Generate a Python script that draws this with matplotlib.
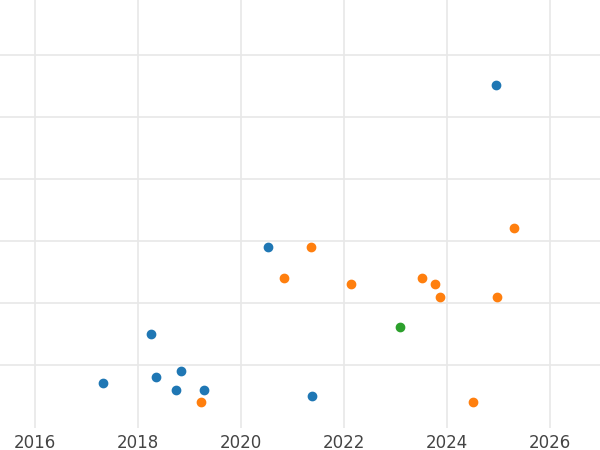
import matplotlib
matplotlib.use('Agg')
import matplotlib.pyplot as plt
from matplotlib.ticker import MultipleLocator

# dates as fractional years, y in arbitrary units (no y labels in reference)
blue_x = [2017.32, 2018.25, 2018.35, 2018.74, 2018.83, 2019.28, 2020.52, 2021.38, 2024.95]
blue_y = [0.71, 1.50, 0.81, 0.60, 0.90, 0.60, 2.90, 0.50, 5.52]
orange_x = [2019.22, 2020.83, 2021.36, 2022.14, 2023.51, 2023.77, 2023.86, 2024.50, 2024.97, 2025.30]
orange_y = [0.40, 2.40, 2.90, 2.31, 2.40, 2.31, 2.10, 0.40, 2.10, 3.21]
green_x = [2023.09]
green_y = [1.61]

fig = plt.figure(figsize=(6, 4.5), dpi=100)
ax = fig.add_axes([0, 0.049, 1, 0.951])

ax.scatter(blue_x, blue_y, color='#1f77b4', s=36, zorder=3)
ax.scatter(orange_x, orange_y, color='#ff7f0e', s=36, zorder=3)
ax.scatter(green_x, green_y, color='#2ca02c', s=36, zorder=3)

ax.set_xlim(2015.32, 2026.97)
ax.set_ylim(-0.02, 6.89)
ax.set_yticks([1, 2, 3, 4, 5, 6])
ax.grid(True, which='major', color='#e8e8e8', linewidth=1.2)
ax.set_axisbelow(True)
for s in ax.spines.values():
    s.set_visible(False)
ax.tick_params(which='both', length=0, labelsize=12, colors='#444444', pad=4)
ax.set_yticklabels([])
ax.set_xticks(range(2016, 2027, 2))
ax.set_xticklabels([str(y) for y in range(2016, 2027, 2)])

fig.savefig('out.png', dpi=100)
